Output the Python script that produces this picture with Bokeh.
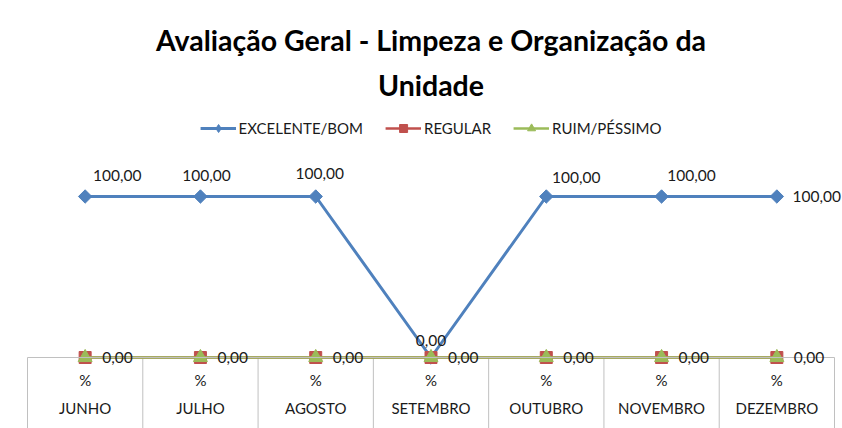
import math
from bokeh.plotting import figure
from bokeh.models import (FactorRange, Range1d, Legend, LegendItem, ColumnDataSource, Title,
                          LabelSet)
from bokeh.core.properties import value
from bokeh.embed import file_html
from bokeh.resources import INLINE

# ---- data ----
months = ["JUNHO", "JULHO", "AGOSTO", "SETEMBRO", "OUTUBRO", "NOVEMBRO", "DEZEMBRO"]
unit = "%"
excelente_bom = [100, 100, 100, 0, 100, 100, 100]
regular = [0, 0, 0, 0, 0, 0, 0]
ruim_pessimo = [0, 0, 0, 0, 0, 0, 0]
series_names = ["EXCELENTE/BOM", "REGULAR", "RUIM/PÉSSIMO"]
title_line1 = "Avaliação Geral - Limpeza e Organização da"
title_line2 = "Unidade"

# ---- styles ----
FONT = "Lato"
BLUE, RED, GREEN = "#4f81bd", "#c0504d", "#9bbb59"
TXT = "#1a1a1a"
GRID = "#c0c0c0"
blue_dx = [32, 6, 4, 0, 30, 30, 40]
blue_dy = [21, 21, 23, 17, 19, 21, 0]   # upward pixel offsets of the labels

def fmt(v):
    return f"{v:.2f}".replace(".", ",")

factors = [(m, unit) for m in months]

W, H = 842, 428
FRAME_TOP = 110
PX = 1.61                  # pixels per percentage point
CELL = 807 / len(months)   # pixels per category
PAD = 8                    # extra frame pixels on each side of the category cells
y_end = 100 + (196 - FRAME_TOP) / PX
y_start = -(H - 357) / PX

xr = FactorRange(*factors, group_padding=0, factor_padding=0,
                 range_padding=2 * (PAD / CELL) / len(months), range_padding_units="percent")

p = figure(width=W, height=H, x_range=xr, y_range=Range1d(y_start, y_end),
           output_backend="svg", toolbar_location=None,
           min_border_left=27 - PAD, min_border_right=0, min_border_bottom=0,
           min_border_top=FRAME_TOP)
p.outline_line_color = None
p.background_fill_color = "white"
p.border_fill_color = "white"
p.xgrid.visible = False
p.ygrid.visible = False
p.yaxis.visible = False

p.title.text = title_line1
t2 = Title(text=title_line2)
p.add_layout(t2, "above")
for t in (p.title, t2):
    t.align = "center"
    t.text_font = FONT
    t.text_font_size = "28.5px"
    t.text_font_style = "bold"
    t.text_color = "#000000"
p.title.standoff = 1
t2.standoff = 17

ax = p.xaxis[0]
ax.fixed_location = 0
ax.bounds = (0, len(months))
ax.axis_line_color = GRID
ax.major_tick_line_color = None
ax.minor_tick_line_color = None
ax.major_label_standoff = 7
ax.major_label_text_font = FONT
ax.major_label_text_font_size = "15px"
ax.major_label_text_color = TXT
ax.group_text_font = FONT
ax.group_text_font_size = "15px"
ax.group_text_font_style = "normal"
ax.group_text_color = TXT
ax.separator_line_color = None

# table borders between the category cells
edges = [(m, unit, -0.5) for m in months] + [(months[-1], unit, 0.5)]
p.segment(x0=edges, y0=[0] * len(edges), x1=edges, y1=[y_start] * len(edges),
          line_color=GRID, line_width=1)

src = ColumnDataSource(dict(x=factors, eb=excelente_bom, rg=regular, rp=ruim_pessimo,
                            eb_lbl=[fmt(v) for v in excelente_bom],
                            rp_lbl=[fmt(v) for v in ruim_pessimo],
                            dx=blue_dx, dy=blue_dy))

l1 = p.line("x", "eb", source=src, line_color=BLUE, line_width=3)
p.scatter("x", "eb", source=src, marker="square", angle=math.pi / 4, size=9.5,
          fill_color=BLUE, line_color=BLUE)
l2 = p.line("x", "rg", source=src, line_color=RED, line_width=2.5)
p.scatter("x", "rg", source=src, marker="square", size=12, fill_color=RED, line_color=RED)
l3 = p.line("x", "rp", source=src, line_color=GREEN, line_width=2.5)
p.scatter("x", "rp", source=src, marker="triangle", size=14, fill_color=GREEN, line_color=GREEN)

# legend-only marker proxies (a single undrawn NaN point)
proxy = ColumnDataSource(dict(x=[factors[0]], y=[float("nan")]))
k1 = p.scatter("x", "y", source=proxy, marker="diamond", size=11, fill_color=BLUE, line_color=BLUE)
k2 = p.scatter("x", "y", source=proxy, marker="square", size=8, fill_color=RED, line_color=RED)
k3 = p.scatter("x", "y", source=proxy, marker="triangle", size=9, fill_color=GREEN, line_color=GREEN)

lab_style = dict(text_font=value(FONT), text_font_size="15.5px", text_color=TXT,
                 text_baseline="middle")
p.add_layout(LabelSet(x="x", y="eb", text="eb_lbl", source=src, x_offset="dx", y_offset="dy",
                      text_align="center", **lab_style))
p.add_layout(LabelSet(x="x", y="rp", text="rp_lbl", source=src, x_offset=17, y_offset=0,
                      text_align="left", **lab_style))

legend = Legend(items=[LegendItem(label=series_names[0], renderers=[l1, k1]),
                       LegendItem(label=series_names[1], renderers=[l2, k2]),
                       LegendItem(label=series_names[2], renderers=[l3, k3])],
                orientation="horizontal", location="top_center")
legend.label_text_font = FONT
legend.label_text_font_size = "15px"
legend.label_text_color = TXT
legend.border_line_color = None
legend.background_fill_alpha = 0
legend.glyph_width = 36
legend.spacing = 22
legend.label_standoff = 3
legend.padding = 0
legend.margin = 8
p.add_layout(legend, "center")

open("out.html", "w").write(file_html(p, INLINE))
